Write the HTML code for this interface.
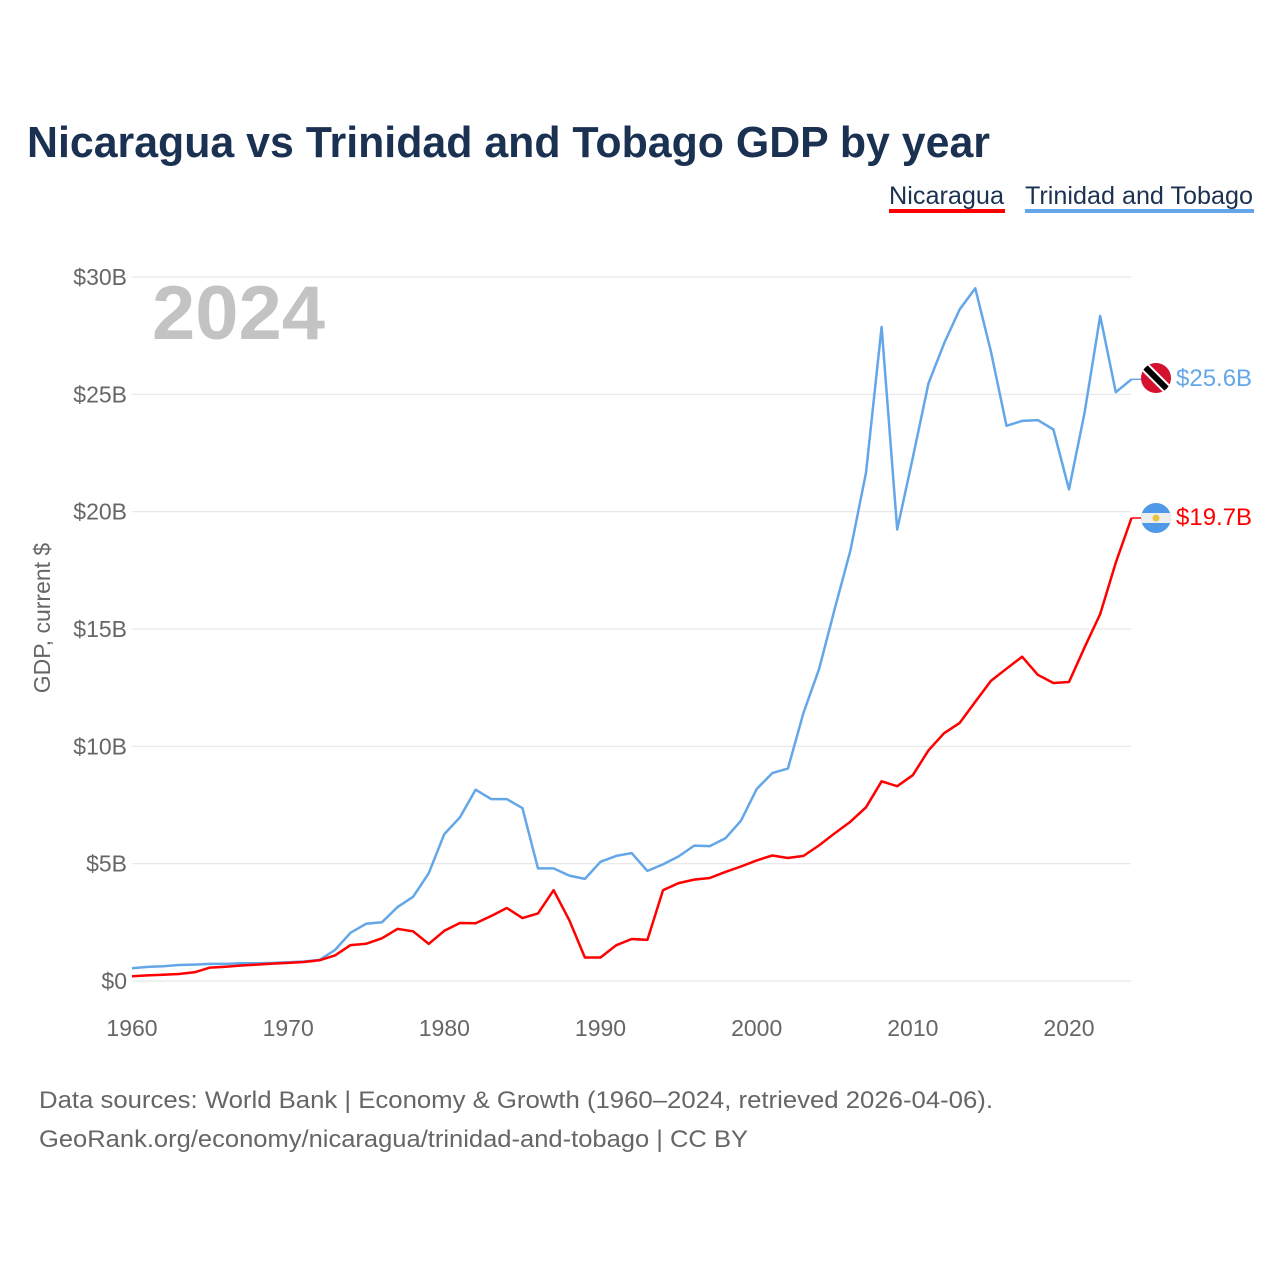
<!DOCTYPE html>
<html><head><meta charset="utf-8"><style>
body{margin:0;background:#fff;}
svg{display:block;font-family:"Liberation Sans",sans-serif;}
</style></head><body>
<svg id="chart" width="1280" height="1280" viewBox="0 0 1280 1280">
<text x="27" y="157" font-size="44" font-weight="bold" fill="#1b3152" textLength="963" lengthAdjust="spacingAndGlyphs">Nicaragua vs Trinidad and Tobago GDP by year</text>
<g>
<text x="889" y="204" font-size="25" fill="#1b3152" textLength="115" lengthAdjust="spacingAndGlyphs">Nicaragua</text>
<rect x="889" y="209" width="116" height="4" fill="#ff0000"/>
<text x="1025" y="204" font-size="25" fill="#1b3152" textLength="228" lengthAdjust="spacingAndGlyphs">Trinidad and Tobago</text>
<rect x="1025" y="209" width="229" height="4" fill="#63a7e8"/>
</g>
<text x="152" y="339" font-size="76" font-weight="bold" fill="#c3c3c3" textLength="173" lengthAdjust="spacingAndGlyphs">2024</text>
<g id="grid"></g>
<g id="yticks"></g>
<g id="xticks"></g>
<text transform="translate(50,618) rotate(-90)" text-anchor="middle" font-size="23" fill="#666">GDP, current $</text>
<g id="series"></g>
<g>
<clipPath id="c1"><circle cx="1156" cy="378" r="15"/></clipPath>
<g clip-path="url(#c1)"><rect x="1140" y="362" width="32" height="32" fill="#d5112f"/>
<line x1="1140" y1="362" x2="1172" y2="394" stroke="#fff" stroke-width="10"/>
<line x1="1140" y1="362" x2="1172" y2="394" stroke="#000" stroke-width="6"/></g>
</g>
<g>
<clipPath id="c2"><circle cx="1156" cy="518" r="15"/></clipPath>
<g clip-path="url(#c2)"><rect x="1140" y="502" width="32" height="32" fill="#4f9ae8"/>
<rect x="1140" y="513" width="32" height="10" fill="#eee"/>
<circle cx="1156" cy="518" r="3.5" fill="#e8c440"/></g>
</g>
<text id="lblT" x="1176" y="386" font-size="24" fill="#63a7e8">$25.6B</text>
<text id="lblN" x="1176" y="525" font-size="24" fill="#ff0000">$19.7B</text>
<text x="39" y="1108" font-size="24" fill="#666" textLength="954" lengthAdjust="spacingAndGlyphs">Data sources: World Bank | Economy &amp; Growth (1960–2024, retrieved 2026-04-06).</text>
<text x="39" y="1147" font-size="24" fill="#666" textLength="709" lengthAdjust="spacingAndGlyphs">GeoRank.org/economy/nicaragua/trinidad-and-tobago | CC BY</text>
</svg>
<script>
const startYear = 1960;
const nicaragua = [0.2,0.24,0.27,0.3,0.37,0.57,0.61,0.66,0.7,0.74,0.77,0.81,0.88,1.09,1.53,1.59,1.82,2.22,2.12,1.58,2.14,2.47,2.46,2.77,3.11,2.68,2.88,3.87,2.59,1.0,1.0,1.52,1.79,1.75,3.87,4.17,4.32,4.39,4.65,4.88,5.14,5.35,5.24,5.33,5.78,6.3,6.79,7.4,8.51,8.3,8.77,9.83,10.56,11.0,11.9,12.79,13.31,13.82,13.05,12.7,12.74,14.22,15.64,17.83,19.73];
const trinidad = [0.54,0.6,0.63,0.68,0.7,0.73,0.73,0.76,0.76,0.77,0.8,0.83,0.9,1.32,2.06,2.44,2.5,3.15,3.59,4.59,6.26,6.97,8.15,7.75,7.75,7.37,4.8,4.8,4.49,4.35,5.08,5.33,5.45,4.69,4.97,5.31,5.77,5.75,6.08,6.83,8.18,8.86,9.05,11.43,13.3,15.87,18.34,21.66,27.87,19.24,22.3,25.47,27.17,28.62,29.52,26.83,23.66,23.87,23.9,23.5,20.95,24.22,28.34,25.09,25.64];
const yTicks = [0,5,10,15,20,25,30];
const yTickLabels = ["$0","$5B","$10B","$15B","$20B","$25B","$30B"];
const xTicks = [1960,1970,1980,1990,2000,2010,2020];

const NS = "http://www.w3.org/2000/svg";
const xs = y => 132 + (y - 1960) * (1069 - 132) / 60;
const ys = v => 981 - v * (981 - 277) / 30;
function mk(tag, attrs, parent){const e=document.createElementNS(NS,tag);for(const k in attrs)e.setAttribute(k,attrs[k]);parent.appendChild(e);return e;}
const grid=document.getElementById('grid'), yt=document.getElementById('yticks'), xt=document.getElementById('xticks'), ser=document.getElementById('series');
yTicks.forEach((v,i)=>{
  const l=mk('line',{x1:132,x2:1131,y1:ys(v),y2:ys(v),stroke:'#e6e6e6','stroke-width':1.2},grid);
  
  
  const t=mk('text',{x:127,y:ys(v)+8,'text-anchor':'end','font-size':23,fill:'#666'},yt);
  t.textContent=yTickLabels[i];
  
  
});
xTicks.forEach(y=>{
  const t=mk('text',{x:xs(y),y:1036,'text-anchor':'middle','font-size':23,fill:'#666'},xt);
  t.textContent=y;
  
  
});
function line(data,color,name){
  const pts=data.map((v,i)=>xs(startYear+i).toFixed(1)+','+ys(v).toFixed(1)).join(' ');
  const p=mk('polyline',{points:pts,fill:'none',stroke:color,'stroke-width':2.5,'stroke-linejoin':'round'},ser);
  
  
  const last=data.length-1;
  const s=mk('line',{x1:xs(startYear+last),x2:1141,y1:ys(data[last]),y2:ys(data[last]),stroke:color,'stroke-width':1.5},ser);
  
  
}
line(trinidad,'#63a7e8','line-trinidad');
line(nicaragua,'#ff0000','line-nicaragua');
document.getElementById('lblT').textContent='$'+trinidad[trinidad.length-1].toFixed(1)+'B';
document.getElementById('lblN').textContent='$'+nicaragua[nicaragua.length-1].toFixed(1)+'B';
</script>
</body></html>
